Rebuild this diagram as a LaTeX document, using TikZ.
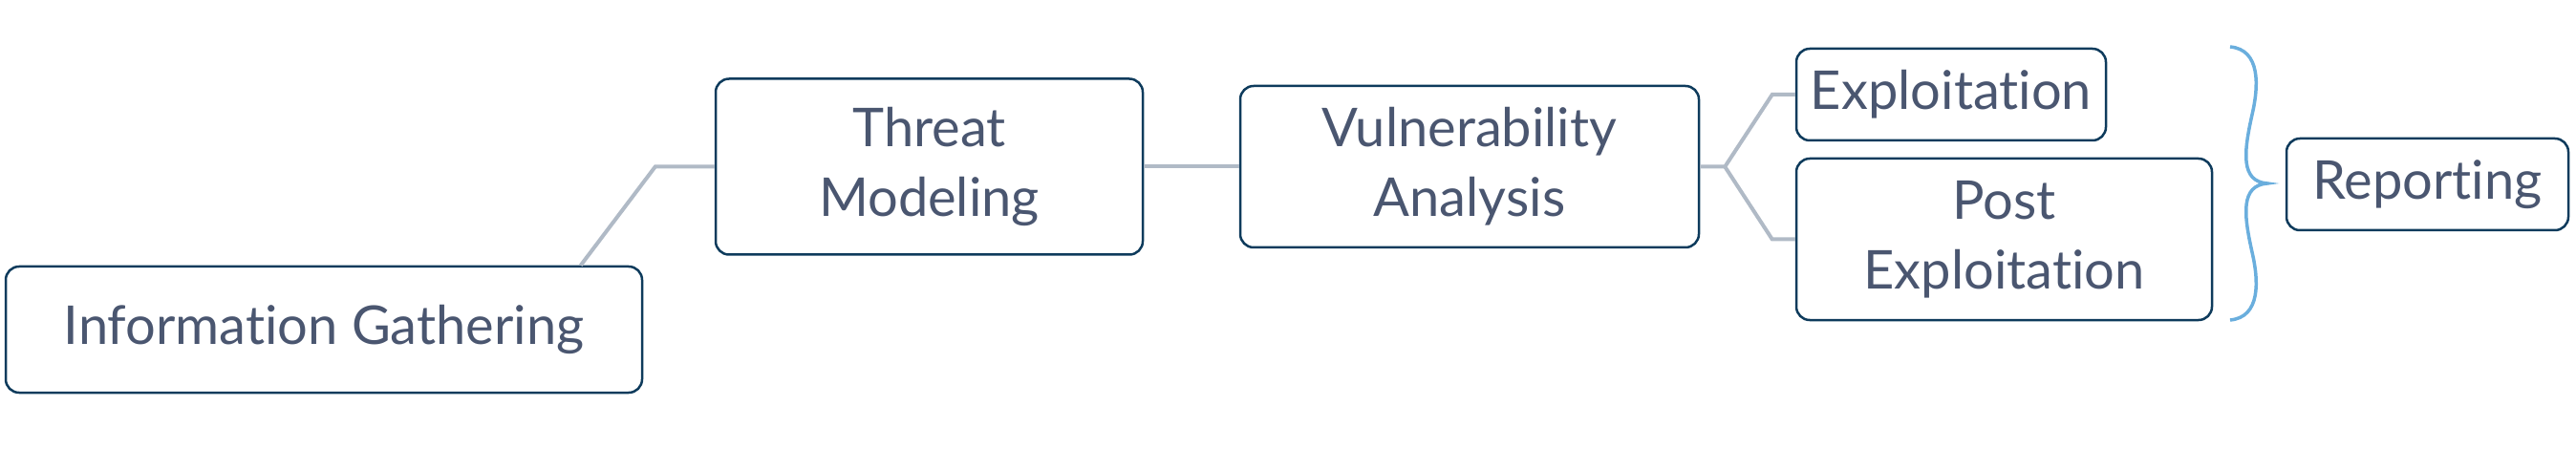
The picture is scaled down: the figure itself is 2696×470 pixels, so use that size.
\documentclass[tikz,border=0pt]{standalone}
\usepackage{fontspec}
\setmainfont{Lato}[Ligatures={NoCommon}]
\usetikzlibrary{calc}
\definecolor{txt}{HTML}{4A5670}
\definecolor{bord}{HTML}{0E3B5C}
\definecolor{conn}{HTML}{B0BAC6}
\definecolor{brc}{HTML}{6AAEDD}
\tikzset{
  stepbox/.style={draw=bord, line width=2.5pt, rounded corners=14pt, text=txt,
    align=center, inner sep=0pt, font=\fontsize{56}{73}\selectfont},
  link/.style={draw=conn, line width=4pt},
  bracepath/.style={draw=brc, line width=3.5pt}
}
\begin{document}
\begin{tikzpicture}[x=1pt,y=-1pt]
\useasboundingbox (0,0) rectangle (2696,470);
\node[stepbox, minimum width=666pt, minimum height=132pt] (IG) at (339,345) {Information Gathering};
\node[stepbox, minimum width=447pt, minimum height=184pt] (TM) at (972.5,174.5) {Threat\\Modeling};
\node[stepbox, minimum width=480pt, minimum height=169pt] (VA) at (1538,174.5) {Vulnerability\\Analysis};
\node[stepbox, minimum width=324pt, minimum height=96pt] (EX) at (2042,99) {Exploitation};
\node[stepbox, minimum width=435pt, minimum height=169pt] (PE) at (2097.5,250.5) {Post\\Exploitation};
\node[stepbox, minimum width=295pt, minimum height=96pt] (RP) at (2540.5,193) {Reporting};

\draw[link] ([xshift=603pt]IG.north west) -- ($(TM.west)+(-62,0)$) -- (TM.west);
\draw[link] (TM.east) -- (VA.west);
\draw[link] (VA.east) -- ++(26,0) coordinate (f) -- ($(EX.west)+(-24,0)$) -- (EX.west);
\draw[link] (f) -- ($(PE.west)+(-24,0)$) -- (PE.west);

\draw[bracepath] (2334,49) .. controls (2366,52) and (2364,90) .. (2357,120)
  .. controls (2348,160) and (2345,190) .. (2373,192)
  .. controls (2345,194) and (2348,224) .. (2357,264)
  .. controls (2364,294) and (2366,332) .. (2334,335);
\end{tikzpicture}
\end{document}
